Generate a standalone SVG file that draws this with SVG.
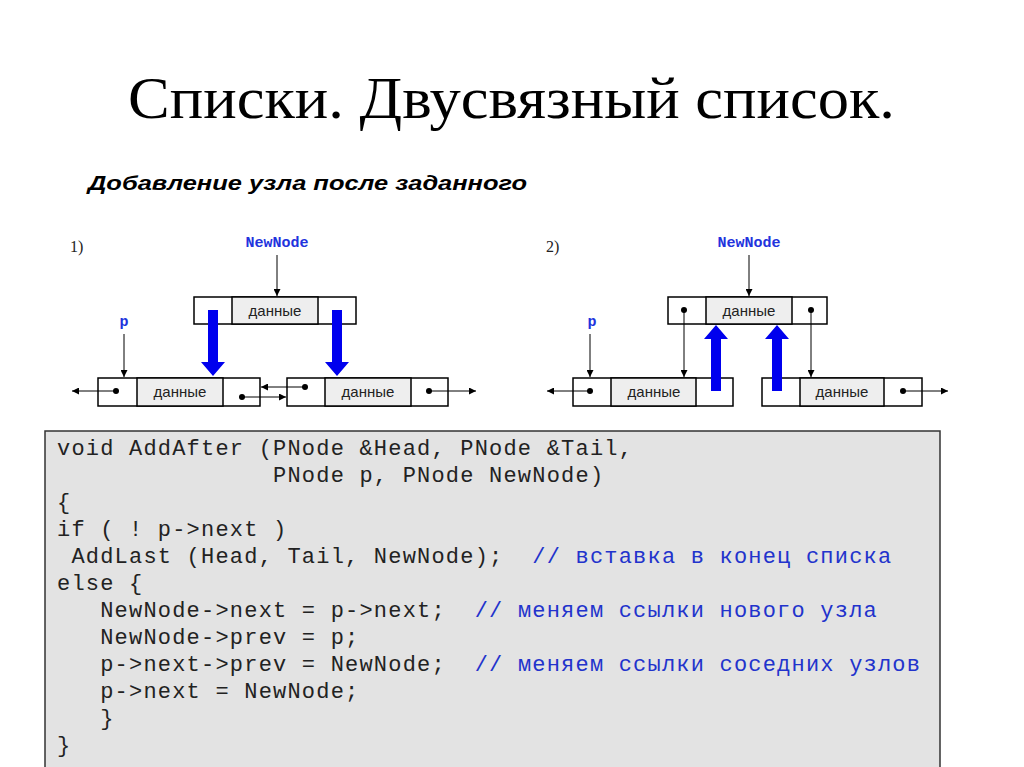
<svg xmlns="http://www.w3.org/2000/svg" width="1024" height="767" viewBox="0 0 1024 767">
<defs>
<marker id="ah" viewBox="0 0 10 10" refX="10" refY="5" markerWidth="9" markerHeight="7" markerUnits="userSpaceOnUse" orient="auto"><path d="M0,0 L10,5 L0,10 z" fill="#000"/></marker>
</defs>
<style>
.c{fill:#fff;stroke:#000;stroke-width:1.5}
.d{fill:#eee;stroke:#000;stroke-width:1.5}
.dt{font-family:"Liberation Sans",Arial,sans-serif;font-size:15px;fill:#222;text-anchor:middle}
.lab{font-family:"Liberation Mono",monospace;font-size:15px;font-weight:bold;fill:#2233dd;text-anchor:middle}
.ln{stroke:#000;stroke-width:1;fill:none;marker-end:url(#ah)}
.dot{fill:#000}
.code{font-family:"Liberation Mono",monospace;font-size:22px;letter-spacing:1.2px;fill:#222;white-space:pre}
.cm{fill:#2233cc}
.num{font-family:"Liberation Serif",serif;font-size:16px;fill:#222}
</style>
<rect width="1024" height="767" fill="#fff"/>
<text x="128" y="118" textLength="767" lengthAdjust="spacingAndGlyphs" font-family="Liberation Serif,serif" font-size="60" fill="#000">Списки. Двусвязный список.</text>
<text x="88" y="190" textLength="439" lengthAdjust="spacingAndGlyphs" font-family="Liberation Sans,Arial,sans-serif" font-size="20" font-weight="bold" font-style="italic" fill="#000">Добавление узла после заданного</text>
<text class="num" x="70" y="252">1)</text>
<text class="num" x="546" y="252">2)</text>

<g id="n1new"><rect class="c" x="194" y="297" width="162" height="27"/><rect class="d" x="232" y="297" width="86" height="27"/><text class="dt" x="275" y="316">данные</text></g>
<g id="n1left"><rect class="c" x="98" y="378" width="162" height="28"/><rect class="d" x="137" y="378" width="86" height="28"/><text class="dt" x="180" y="397">данные</text></g>
<g id="n1right"><rect class="c" x="287" y="378" width="161" height="28"/><rect class="d" x="325" y="378" width="86" height="28"/><text class="dt" x="368" y="397">данные</text></g>
<g id="n2new"><rect class="c" x="668" y="297" width="159" height="27"/><rect class="d" x="706" y="297" width="86" height="27"/><text class="dt" x="749" y="316">данные</text></g>
<g id="n2left"><rect class="c" x="573" y="378" width="160" height="28"/><rect class="d" x="611" y="378" width="85" height="28"/><text class="dt" x="654" y="397">данные</text></g>
<g id="n2right"><rect class="c" x="762" y="378" width="160" height="28"/><rect class="d" x="800" y="378" width="84" height="28"/><text class="dt" x="842" y="397">данные</text></g>

<text class="lab" x="277" y="247">NewNode</text>
<text class="lab" x="124" y="326">p</text>
<text class="lab" x="749" y="247">NewNode</text>
<text class="lab" x="592" y="326">p</text>

<g id="connectors">
<line class="ln" x1="277" y1="255" x2="277" y2="296"/>
<line class="ln" x1="124" y1="334" x2="124" y2="377"/>
<line class="ln" x1="116" y1="391" x2="72" y2="391"/>
<line class="ln" x1="429" y1="391" x2="476" y2="391"/>
<line class="ln" x1="242" y1="397" x2="286" y2="397"/>
<line class="ln" x1="305" y1="387" x2="261" y2="387"/>
<line class="ln" x1="749" y1="255" x2="749" y2="296"/>
<line class="ln" x1="590" y1="334" x2="590" y2="377"/>
<line class="ln" x1="590" y1="391" x2="547" y2="391"/>
<line class="ln" x1="903" y1="391" x2="948" y2="391"/>
<line class="ln" x1="684" y1="310" x2="684" y2="377"/>
<line class="ln" x1="811" y1="310" x2="811" y2="377"/>
<circle class="dot" cx="116" cy="391" r="3"/><circle class="dot" cx="429" cy="391" r="3"/>
<circle class="dot" cx="242" cy="397" r="3"/><circle class="dot" cx="305" cy="387" r="3"/>
<circle class="dot" cx="590" cy="391" r="3"/><circle class="dot" cx="903" cy="391" r="3"/>
<circle class="dot" cx="684" cy="310" r="3"/><circle class="dot" cx="811" cy="310" r="3"/>
<path d="M208,310 h10 v52 h7 l-12,14 l-12,-14 h7 z" fill="#0000ee"/>
<path d="M332,310 h10 v52 h7 l-12,14 l-12,-14 h7 z" fill="#0000ee"/>
<path d="M711,391 h10 v-52 h7 l-12,-14 l-12,14 h7 z" fill="#0000ee"/>
<path d="M772,391 h10 v-52 h7 l-12,-14 l-12,14 h7 z" fill="#0000ee"/>
</g>

<g id="code">
<rect x="45" y="431" width="895" height="340" fill="#e3e3e3" stroke="#333" stroke-width="1.5"/>
<text class="code" x="57" y="455">void AddAfter (PNode &amp;Head, PNode &amp;Tail,</text>
<text class="code" x="57" y="482">               PNode p, PNode NewNode)</text>
<text class="code" x="57" y="509">{</text>
<text class="code" x="57" y="536">if ( ! p-&gt;next )</text>
<text class="code" x="57" y="563"> AddLast (Head, Tail, NewNode);  <tspan class="cm">// вставка в конец списка</tspan></text>
<text class="code" x="57" y="590">else {</text>
<text class="code" x="57" y="617">   NewNode-&gt;next = p-&gt;next;  <tspan class="cm">// меняем ссылки нового узла</tspan></text>
<text class="code" x="57" y="644">   NewNode-&gt;prev = p;</text>
<text class="code" x="57" y="671">   p-&gt;next-&gt;prev = NewNode;  <tspan class="cm">// меняем ссылки соседних узлов</tspan></text>
<text class="code" x="57" y="698">   p-&gt;next = NewNode;</text>
<text class="code" x="57" y="725">   }</text>
<text class="code" x="57" y="752">}</text>
</g>
</svg>
